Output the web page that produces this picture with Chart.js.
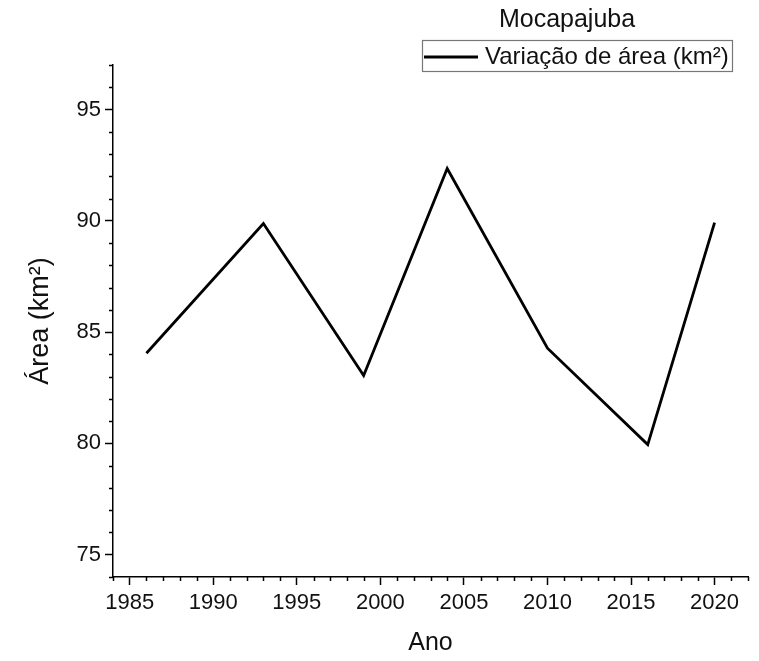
<!DOCTYPE html>
<html>
<head>
<meta charset="utf-8">
<script src="https://cdn.jsdelivr.net/npm/chart.js@4"></script>
<style>
  html, body { margin: 0; padding: 0; background: #fff; }
  #wrap { width: 759px; height: 661px; }
</style>
</head>
<body>
<div id="wrap"><canvas id="lineChart"></canvas></div>
<script>
var anos = [1986, 1993, 1999, 2004, 2010, 2016, 2020];
var areas = [84.05, 89.88, 83.05, 92.35, 84.28, 79.95, 89.92];
var tituloGrafico = "Mocapajuba";
var rotuloSerie = "Variação de área (km²)";

var fonte = "'Liberation Sans', Arial, sans-serif";

// minor ticks every unit, drawn through the scales
var minorTicks = {
    id: "minorTicks",
    afterDraw: function(chart) {
        var ctx = chart.ctx;
        ctx.save();
        ctx.strokeStyle = "#000";
        ctx.lineWidth = 1.5;
        var x = chart.scales.x, y = chart.scales.y;
        for (var v = x.min; v <= x.max; v++) {
            if (v % 5 === 0) continue;
            var px = Math.round(x.getPixelForValue(v)) + 0.5;
            ctx.beginPath();
            ctx.moveTo(px, x.top);
            ctx.lineTo(px, x.top + 4);
            ctx.stroke();
        }
        for (var w = y.min; w <= y.max; w++) {
            if (w % 5 === 0) continue;
            var py = Math.round(y.getPixelForValue(w)) + 0.5;
            ctx.beginPath();
            ctx.moveTo(y.right, py);
            ctx.lineTo(y.right - 4, py);
            ctx.stroke();
        }
        ctx.restore();
    }
};

// title and framed legend, sitting over the top right of the plot
var tituloLegenda = {
    id: "tituloLegenda",
    afterDraw: function(chart) {
        var ctx = chart.ctx;
        var ds = chart.data.datasets[0];
        ctx.save();
        ctx.fillStyle = "#111";
        ctx.textBaseline = "middle";
        ctx.textAlign = "center";
        ctx.font = "25px " + fonte;
        ctx.fillText(tituloGrafico, 567, 20);

        ctx.strokeStyle = "#777";
        ctx.lineWidth = 1.2;
        ctx.strokeRect(422.5, 40.5, 310, 31);

        ctx.strokeStyle = ds.borderColor;
        ctx.lineWidth = 3;
        ctx.beginPath();
        ctx.moveTo(424, 57);
        ctx.lineTo(478, 57);
        ctx.stroke();

        ctx.textAlign = "left";
        ctx.font = "24px " + fonte;
        ctx.fillText(ds.label, 485, 57);
        ctx.restore();
    }
};

var ctx1 = document.getElementById("lineChart").getContext("2d");
var myChart = new Chart(ctx1, {
    type: "line",
    data: {
        datasets: [
            {
                label: rotuloSerie,
                data: anos.map(function(a, i) { return { x: a, y: areas[i] }; }),
                borderColor: "#000",
                backgroundColor: "#000",
                borderWidth: 2.8,
                pointRadius: 0,
                tension: 0
            }
        ]
    },
    options: {
        responsive: true,
        maintainAspectRatio: false,
        animation: false,
        layout: {
            padding: { top: 65, right: 11, left: 0, bottom: 0 }
        },
        plugins: {
            legend: { display: false },
            tooltip: { enabled: false }
        },
        scales: {
            x: {
                type: "linear",
                min: 1984,
                max: 2022,
                afterFit: function(s) { s.height = 84; },
                border: { color: "#000", width: 1.5 },
                grid: {
                    drawOnChartArea: false,
                    tickLength: 8,
                    tickColor: "#000",
                    tickWidth: 1.5
                },
                ticks: {
                    stepSize: 5,
                    includeBounds: false,
                    padding: 5,
                    color: "#111",
                    font: { family: fonte, size: 22 },
                    maxRotation: 0,
                    callback: function(value) {
                        return String(value);
                    }
                },
                title: {
                    display: true,
                    text: "Ano",
                    color: "#111",
                    font: { family: fonte, size: 25 },
                    padding: { top: 0, bottom: 3 }
                }
            },
            y: {
                min: 74,
                max: 97,
                afterFit: function(s) { s.width = 113; },
                border: { color: "#000", width: 1.5 },
                grid: {
                    drawOnChartArea: false,
                    tickLength: 8,
                    tickColor: "#000",
                    tickWidth: 1.5
                },
                ticks: {
                    stepSize: 5,
                    includeBounds: false,
                    padding: 4,
                    color: "#111",
                    font: { family: fonte, size: 22 }
                },
                title: {
                    display: true,
                    text: "Área (km²)",
                    color: "#111",
                    font: { family: fonte, size: 27 },
                    padding: { top: 24, bottom: 0 }
                }
            }
        }
    },
    plugins: [minorTicks, tituloLegenda]
});
</script>
</body>
</html>
